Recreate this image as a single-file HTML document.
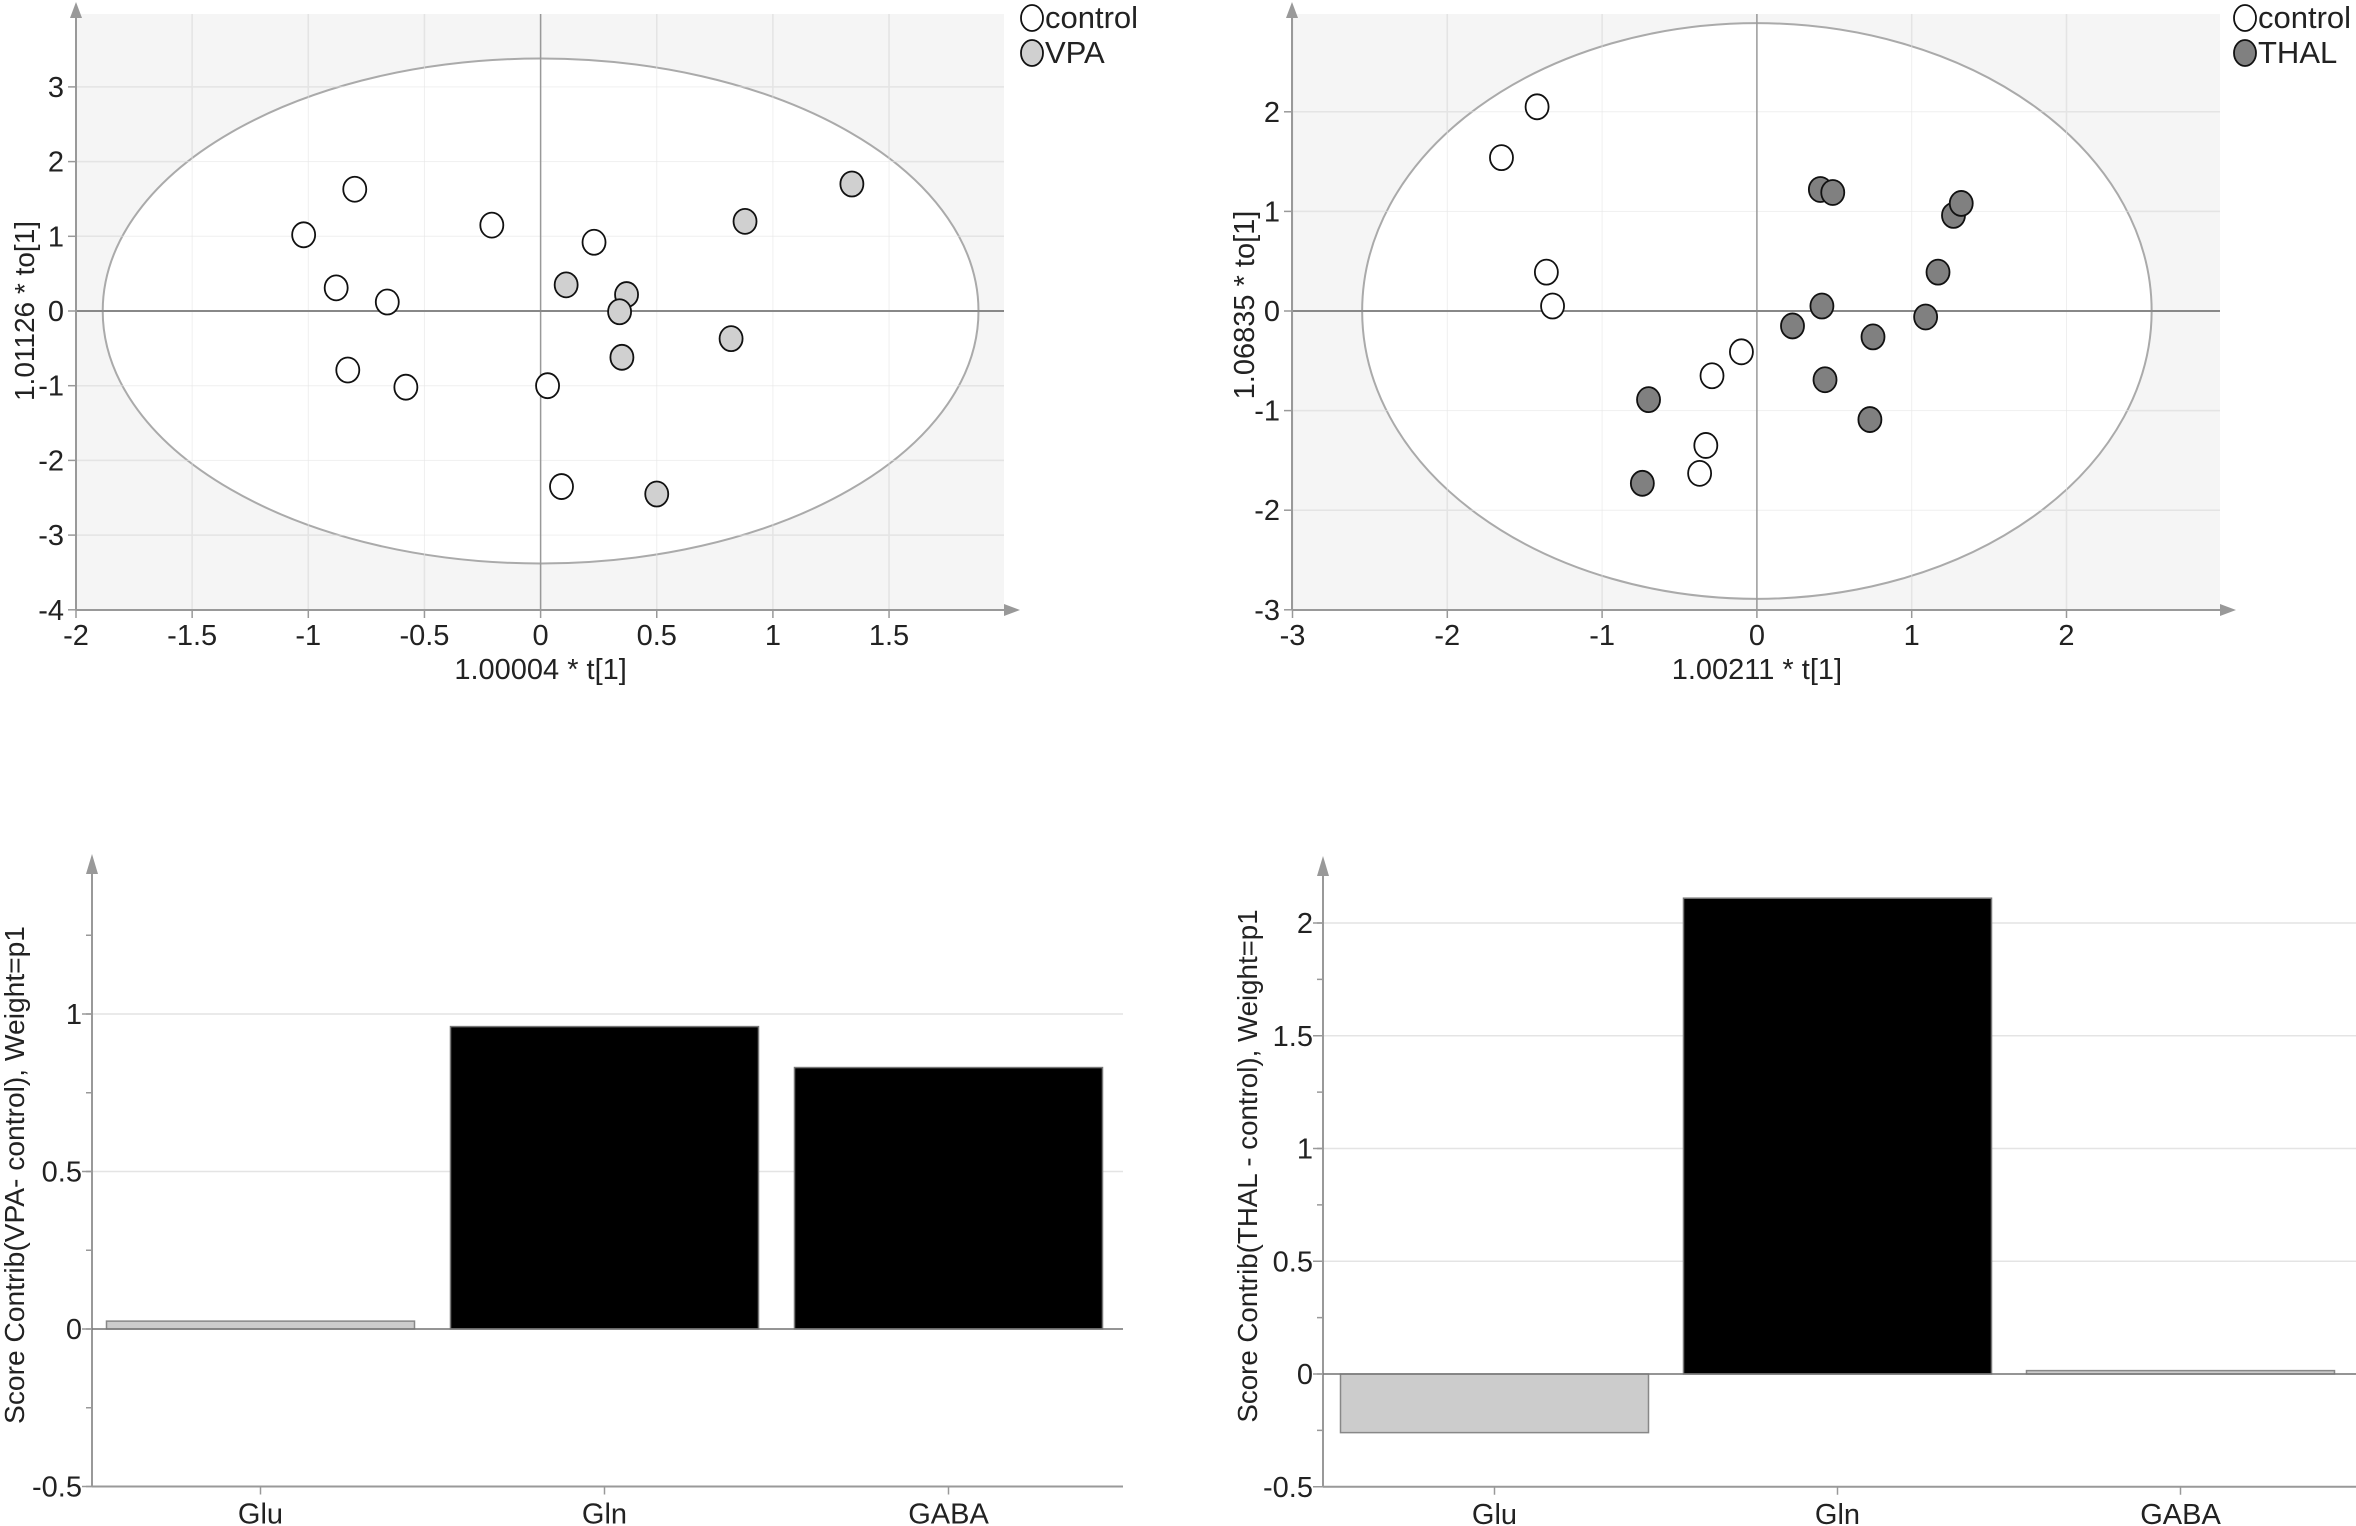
<!DOCTYPE html>
<html><head><meta charset="utf-8">
<style>
html,body{margin:0;padding:0;background:#fff;}
svg{display:block;}
text{font-family:"Liberation Sans Narrow","Liberation Sans",sans-serif;fill:#222;}
.t{font-family:"Liberation Sans",sans-serif;}
</style></head>
<body>
<svg id="c" width="2356" height="1526" viewBox="0 0 2356 1526" xmlns="http://www.w3.org/2000/svg"></svg>
<script>
// ---- data: VPA score plot ----
const vpaCtrlX = [-1.02,-0.80,-0.88,-0.66,-0.83,-0.58,-0.21,0.23,0.03,0.09];
const vpaCtrlY = [1.02,1.63,0.31,0.12,-0.79,-1.02,1.15,0.92,-1.00,-2.35];
const vpaX = [0.11,0.37,0.34,0.35,0.82,0.88,1.34,0.50];
const vpaY = [0.35,0.22,-0.01,-0.62,-0.37,1.20,1.70,-2.45];
const vpaXTicks = [-2,-1.5,-1,-0.5,0,0.5,1,1.5];
const vpaYTicks = [-4,-3,-2,-1,0,1,2,3];
// ---- data: THAL score plot ----
const thCtrlX = [-1.42,-1.65,-1.36,-1.32,-0.10,-0.29,-0.33,-0.37];
const thCtrlY = [2.05,1.54,0.39,0.05,-0.41,-0.65,-1.35,-1.63];
const thX = [0.41,0.49,1.27,1.32,1.17,0.42,0.23,1.09,0.75,0.44,0.73,-0.70,-0.74];
const thY = [1.22,1.19,0.96,1.08,0.39,0.05,-0.15,-0.06,-0.26,-0.69,-1.09,-0.89,-1.73];
const thXTicks = [-3,-2,-1,0,1,2];
const thYTicks = [-3,-2,-1,0,1,2];
// ---- data: contribution bars ----
const categories = ["Glu","Gln","GABA"];
const vpaContrib = [0.025,0.96,0.83];
const thalContrib = [-0.26,2.11,0.015];
const vpaBarTicks = [-0.5,0,0.5,1];
const thalBarTicks = [-0.5,0,0.5,1,1.5,2];

const NS="http://www.w3.org/2000/svg";
const svg=document.getElementById('c');
function el(tag,attrs,parent,txt){const e=document.createElementNS(NS,tag);for(const k in attrs)e.setAttribute(k,attrs[k]);if(txt!==undefined)e.textContent=txt;(parent||svg).appendChild(e);return e;}

function scorePlot(o){
  const g=el('g',{});
  
  
  const sx=v=>o.x0+(v-o.xmin)*o.ux, sy=v=>o.y0-v*o.uy;
  el('rect',{x:o.left,y:o.top,width:o.right-o.left,height:o.bottom-o.top,fill:'#f5f5f5'},g);
  o.xTicks.forEach(t=>el('line',{x1:sx(t),x2:sx(t),y1:o.top,y2:o.bottom,stroke:'#e2e2e2','stroke-width':1.5},g));
  o.yTicks.forEach(t=>el('line',{x1:o.left,x2:o.right,y1:sy(t),y2:sy(t),stroke:'#e2e2e2','stroke-width':1.5},g));
  const ell=el('ellipse',{cx:sx(0),cy:sy(0),rx:o.ea*o.ux,ry:o.eb*o.uy,fill:'#fff',stroke:'#aaa','stroke-width':2},g);
  
  
  o.xTicks.forEach(t=>el('line',{x1:sx(t),x2:sx(t),y1:o.top,y2:o.bottom,stroke:'#e6e6e6','stroke-width':1,opacity:0.6},g));
  o.yTicks.forEach(t=>el('line',{x1:o.left,x2:o.right,y1:sy(t),y2:sy(t),stroke:'#e6e6e6','stroke-width':1,opacity:0.6},g));
  el('line',{x1:sx(0),x2:sx(0),y1:o.top,y2:o.bottom,stroke:'#999','stroke-width':1.5},g);
  el('line',{x1:o.left,x2:o.right,y1:sy(0),y2:sy(0),stroke:'#888','stroke-width':2},g);
  el('line',{x1:o.left,x2:o.right,y1:o.bottom,y2:o.bottom,stroke:'#999','stroke-width':2},g);
  el('line',{x1:o.left,x2:o.left,y1:o.top,y2:o.bottom,stroke:'#999','stroke-width':2},g);
  el('polygon',{points:`${o.right},${o.bottom-6} ${o.right+16},${o.bottom} ${o.right},${o.bottom+6}`,fill:'#999'},g);
  el('polygon',{points:`${o.left-6},${o.top+4} ${o.left},${o.top-12} ${o.left+6},${o.top+4}`,fill:'#999'},g);
  o.xTicks.forEach(t=>{el('line',{x1:sx(t),x2:sx(t),y1:o.bottom,y2:o.bottom+8,stroke:'#999','stroke-width':1.5},g);
    const tx=el('text',{x:sx(t),y:o.bottom+35,'font-size':29,'text-anchor':'middle'},g,String(t));
    
    });
  o.yTicks.forEach(t=>{el('line',{x1:o.left-8,x2:o.left,y1:sy(t),y2:sy(t),stroke:'#999','stroke-width':1.5},g);
    const tx=el('text',{x:o.left-12,y:sy(t)+10,'font-size':29,'text-anchor':'end'},g,String(t));
    
    });
  const xt=el('text',{x:sx(0),y:o.bottom+69,'font-size':29,'text-anchor':'middle'},g,o.xTitle);
  
  
  const yt=el('text',{class:'t',x:0,y:0,'font-size':o.ytf,'text-anchor':'middle',transform:`translate(${o.ytx},${o.yty}) rotate(-90)`},g,o.yTitle);
  
  
  o.sets.forEach(s=>{for(let i=0;i<s.x.length;i++){
    const c=el('ellipse',{cx:sx(s.x[i]),cy:sy(s.y[i]),rx:11.5,ry:12.5,fill:s.fill,stroke:'#111','stroke-width':1.8},g);
    
    }});
  o.sets.forEach((s,i)=>{
    const ly=18+i*35;
    const lc=el('ellipse',{cx:o.legX,cy:ly,rx:11,ry:13,fill:s.fill,stroke:'#111','stroke-width':1.8},g);
    
    
    const lt=el('text',{x:o.legX+13,y:ly+10,'font-size':31},g,s.label);
    
    
  });
}

scorePlot({name:'vpa-score-plot',left:76,right:1004,top:14,bottom:610,xmin:-2,x0:76,ux:232.3,y0:311,uy:74.7,ea:1.885,eb:3.38,
  xTicks:vpaXTicks,yTicks:vpaYTicks,xTitle:'1.00004 * t[1]',yTitle:'1.01126 * to[1]',ytx:34,yty:311,ytf:28,legX:1032,
  sets:[{name:'control',label:'control',x:vpaCtrlX,y:vpaCtrlY,fill:'#fff'},{name:'vpa',label:'VPA',x:vpaX,y:vpaY,fill:'#d0d0d0'}]});
scorePlot({name:'thal-score-plot',left:1292,right:2220,top:14,bottom:610,xmin:-3,x0:1292.5,ux:154.8,y0:311,uy:99.6,ea:2.55,eb:2.89,
  xTicks:thXTicks,yTicks:thYTicks,xTitle:'1.00211 * t[1]',yTitle:'1.06835 * to[1]',ytx:1254,yty:305,ytf:29,legX:2245,
  sets:[{name:'control',label:'control',x:thCtrlX,y:thCtrlY,fill:'#fff'},{name:'thal',label:'THAL',x:thX,y:thY,fill:'#808080'}]});

function barPlot(o){
  const g=el('g',{});
  
  
  const sy=v=>o.y0-v*o.uy;
  const cx=i=>o.c0+i*o.step;
  o.ticks.forEach(t=>{ if(t!==o.ticks[0]) el('line',{x1:o.left,x2:o.right,y1:sy(t),y2:sy(t),stroke:'#e4e4e4','stroke-width':1.5},g);});
  const axB=sy(o.ticks[0]);
  el('line',{x1:o.left,x2:o.left,y1:o.top,y2:axB,stroke:'#999','stroke-width':2},g);
  el('polygon',{points:`${o.left-6},${o.top+16} ${o.left},${o.top-4} ${o.left+6},${o.top+16}`,fill:'#999'},g);
  el('line',{x1:o.left,x2:o.right,y1:axB,y2:axB,stroke:'#999','stroke-width':2},g);
  for(let v=o.ticks[0];v<=o.ymaxMinor+1e-9;v+=0.25){el('line',{x1:o.left-6,x2:o.left,y1:sy(v),y2:sy(v),stroke:'#999','stroke-width':1.5},g);}
  o.ticks.forEach(t=>{el('line',{x1:o.left-10,x2:o.left,y1:sy(t),y2:sy(t),stroke:'#999','stroke-width':1.5},g);
    const tx=el('text',{x:o.left-10,y:sy(t)+10,'font-size':29,'text-anchor':'end'},g,String(t));
    
    });
  o.values.forEach((v,i)=>{
    const x=cx(i)-o.bw/2, y=Math.min(sy(v),sy(0)), h=Math.abs(sy(v)-sy(0));
    const big=Math.abs(v)>0.5;
    const r=el('rect',{x:x,y:y,width:o.bw,height:Math.max(h,1),fill:big?'#000':'#cccccc',stroke:big?'#777':'#888','stroke-width':1.5},g);
    
    
  });
  el('line',{x1:o.left,x2:o.right,y1:sy(0),y2:sy(0),stroke:'#777','stroke-width':1.5},g);
  categories.forEach((c,i)=>{el('line',{x1:cx(i),x2:cx(i),y1:axB,y2:axB+8,stroke:'#999','stroke-width':1.5},g);
    const tx=el('text',{x:cx(i),y:axB+37,'font-size':29,'text-anchor':'middle'},g,c);
    
    });
  const yt=el('text',{class:'t',x:0,y:0,'font-size':o.ytf,'text-anchor':'middle',transform:`translate(${o.ytx},${o.yty}) rotate(-90)`},g,o.yTitle);
  
  
}
barPlot({name:'vpa-contrib-chart',left:92,right:1123,top:858,y0:1329,uy:315,c0:260.5,step:344,bw:308,values:vpaContrib,ticks:vpaBarTicks,ymaxMinor:1.25,
  yTitle:'Score Contrib(VPA- control), Weight=p1',ytx:24,yty:1175,ytf:28.2});
barPlot({name:'thal-contrib-chart',left:1323,right:2356,top:860,y0:1374,uy:225.5,c0:1494.5,step:343,bw:308,values:thalContrib,ticks:thalBarTicks,ymaxMinor:2,
  yTitle:'Score Contrib(THAL - control), Weight=p1',ytx:1257,yty:1166,ytf:27.7});
</script>
</body></html>
